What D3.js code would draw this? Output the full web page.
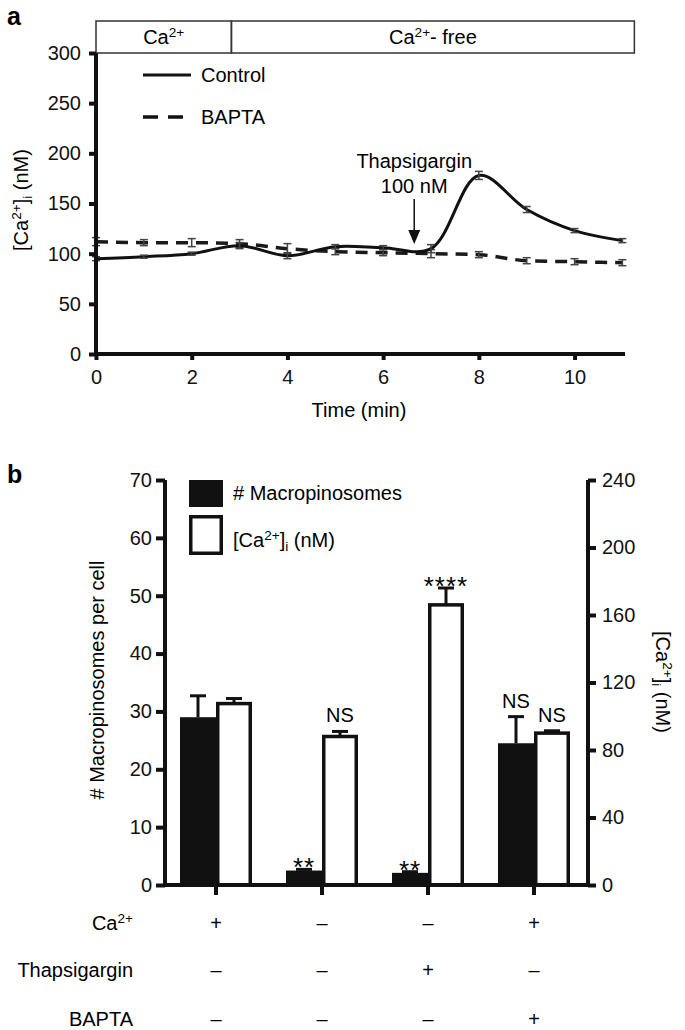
<!DOCTYPE html>
<html><head><meta charset="utf-8">
<script src="https://cdn.jsdelivr.net/npm/d3@7"></script>
<style>
body{margin:0;background:#fff;}
svg{display:block;font-family:"Liberation Sans",Arial,Helvetica,sans-serif;}
</style></head>
<body>
<svg id="chart" width="685" height="1030"></svg>
<script>
// ---------- Panel a data ----------
const times = [0,1,2,3,4,5,6,7,8,9,10,11];
const controlMean = [95,97,100,108,98,107,106,105,178,144,123,113];
const controlErr  = [2,1.5,1.5,3,3,2,2,4,4,3,2,2];
const baptaMean   = [112,111,111,110,105,102,101,100,99,93,92,91];
const baptaErr    = [4,3,4,4,5,3,3,4,3,3,3,3];
const yTicksA = [0,50,100,150,200,250,300];
const xTicksA = [0,2,4,6,8,10];
const phaseStart = [0,2.83];
const phaseEnd = [2.83,11.25];
const annotTime = 6.65;
const annotLines = ["Thapsigargin","100 nM"];

// ---------- Panel b data ----------
const groups = ["g1","g2","g3","g4"];
const macroMean = [29.0,2.5,2.1,24.5];
const macroErr  = [3.7,0.2,0.2,4.6];
const caMean = [107.5,88,166,90];
const caErr  = [3,3,10,1.4];
const macroSig = ["","**","**","NS"];
const caSig = ["","NS","****","NS"];
const leftTicks = [0,10,20,30,40,50,60,70];
const rightTicks = [0,40,80,120,160,200,240];
const rowSigns = [["+","–","–","+"],["–","–","+","–"],["–","–","–","+"]];

const svg = d3.select("#chart");
const FS = 20;

function rich(sel, parts, fs){
  let shift = 0;
  parts.forEach(p=>{
    const target = p.sup ? -0.36*fs : (p.sub ? 0.22*fs : 0);
    sel.append("tspan").attr("dy", target-shift)
      .style("font-size", (p.sup||p.sub) ? (0.68*fs)+"px" : fs+"px").text(p.t);
    shift = target;
  });
  return sel;
}
const caLabel = [{t:"[Ca"},{t:"2+",sup:true},{t:"]"},{t:"i",sub:true},{t:" (nM)"}];

// ================= Panel a =================
const xA = d3.scaleLinear().domain([0,11]).range([96,622.4]);
const yA = d3.scaleLinear().domain([0,300]).range([354,53]);
const gA = svg.append("g");

svg.append("text").attr("x",7).attr("y",25).style("font-size","25px").style("font-weight","bold").text("a");

// phase box
const phases = phaseStart.map((s,i)=>({s,e:phaseEnd[i],i}));
gA.selectAll("rect.phase").data(phases).join("rect").attr("class","phase")
  .attr("x",d=>xA(d.s)).attr("width",d=>xA(d.e)-xA(d.s))
  .attr("y",21).attr("height",32).attr("fill","none").attr("stroke","#333").attr("stroke-width",1.5);
rich(gA.append("text").attr("x",(xA(phaseStart[0])+xA(phaseEnd[0]))/2).attr("y",44).attr("text-anchor","middle"),
  [{t:"Ca"},{t:"2+",sup:true}],FS);
rich(gA.append("text").attr("x",(xA(phaseStart[1])+xA(phaseEnd[1]))/2).attr("y",44).attr("text-anchor","middle"),
  [{t:"Ca"},{t:"2+",sup:true},{t:"- free"}],FS);

// lines
const lineGen = d3.line().x((d,i)=>xA(times[i])).y(d=>yA(d)).curve(d3.curveCatmullRom.alpha(0.5));
const lineGenB = d3.line().x((d,i)=>xA(times[i])).y(d=>yA(d)).curve(d3.curveMonotoneX);

function errBars(mean, err, color){
  const g = gA.append("g").attr("stroke",color).attr("stroke-width",1.5).attr("fill","none");
  mean.forEach((m,i)=>{
    const x = xA(times[i]);
    g.append("line").attr("x1",x).attr("x2",x).attr("y1",yA(m-err[i])).attr("y2",yA(m+err[i]));
    g.append("line").attr("x1",x-4).attr("x2",x+4).attr("y1",yA(m-err[i])).attr("y2",yA(m-err[i]));
    g.append("line").attr("x1",x-4).attr("x2",x+4).attr("y1",yA(m+err[i])).attr("y2",yA(m+err[i]));
  });
}
gA.append("path").attr("d",lineGenB(baptaMean)).attr("fill","none").attr("stroke","#1a1a1a")
  .attr("stroke-width",3.5).attr("stroke-dasharray","12,8");
errBars(baptaMean,baptaErr,"#444");
gA.append("path").attr("d",lineGen(controlMean)).attr("fill","none").attr("stroke","#111").attr("stroke-width",3);
errBars(controlMean,controlErr,"#444");

// axes
const axYA = gA.append("g").attr("transform","translate(96,0)")
  .call(d3.axisLeft(yA).tickValues(yTicksA).tickSize(7).tickSizeOuter(0).tickPadding(8));
const axXA = gA.append("g").attr("transform","translate(0,354)")
  .call(d3.axisBottom(xA).tickValues(xTicksA).tickSize(6).tickSizeOuter(0).tickPadding(10));
[axYA,axXA].forEach(a=>{
  a.select(".domain").attr("stroke","#111").attr("stroke-width",4);
  a.selectAll(".tick line").attr("stroke","#111").attr("stroke-width",4);
  a.selectAll(".tick text").style("font-size",FS+"px").attr("fill","#111").style("font-family","Liberation Sans, Arial, sans-serif");
});
axXA.select(".domain").attr("d",`M96,0H625`);
axYA.select(".domain").attr("d",`M0,${yA(300)}V${yA(0)+2}`);

// axis titles
rich(gA.append("text").attr("transform","translate(28,200) rotate(-90)").attr("text-anchor","middle"),caLabel,FS);
gA.append("text").attr("x",359).attr("y",417).attr("text-anchor","middle").style("font-size",FS+"px").text("Time (min)");

// legend
gA.append("line").attr("x1",143).attr("x2",191).attr("y1",75).attr("y2",75).attr("stroke","#111").attr("stroke-width",3);
gA.append("text").attr("x",201).attr("y",82).style("font-size",FS+"px").text("Control");
gA.append("line").attr("x1",143).attr("x2",191).attr("y1",117).attr("y2",117).attr("stroke","#111").attr("stroke-width",3.5).attr("stroke-dasharray","15,10");
gA.append("text").attr("x",201).attr("y",124).style("font-size",FS+"px").text("BAPTA");

// annotation arrow
const ax = xA(annotTime);
gA.append("text").attr("x",ax).attr("y",168).attr("text-anchor","middle").style("font-size",FS+"px").text(annotLines[0]);
gA.append("text").attr("x",ax).attr("y",193).attr("text-anchor","middle").style("font-size",FS+"px").text(annotLines[1]);
gA.append("line").attr("x1",ax).attr("x2",ax).attr("y1",199).attr("y2",232).attr("stroke","#111").attr("stroke-width",1.5);
gA.append("path").attr("d",`M${ax-6},230L${ax+6},230L${ax},244Z`).attr("fill","#111");

// ================= Panel b =================
const xB = d3.scaleBand().domain(groups).range([163,587]);
const yL = d3.scaleLinear().domain([0,70]).range([885,480]);
const yR = d3.scaleLinear().domain([0,240]).range([885,480]);
const gB = svg.append("g");
const bw = 36;

svg.append("text").attr("x",7).attr("y",483).style("font-size","25px").style("font-weight","bold").text("b");

const cx = g => xB(g)+xB.bandwidth()/2;

// black bars
gB.selectAll("rect.macro").data(groups).join("rect").attr("class","macro")
  .attr("x",g=>cx(g)-bw).attr("width",bw)
  .attr("y",(g,i)=>yL(macroMean[i])).attr("height",(g,i)=>yL(0)-yL(macroMean[i])).attr("fill","#111");
// white bars
gB.selectAll("rect.ca").data(groups).join("rect").attr("class","ca")
  .attr("x",g=>cx(g)+1.75).attr("width",bw-3.5)
  .attr("y",(g,i)=>yR(caMean[i])).attr("height",(g,i)=>yR(0)-yR(caMean[i]))
  .attr("fill","#fff").attr("stroke","#111").attr("stroke-width",3.5);

// error bars
function barErr(xc, yTop, yErr){
  gB.append("line").attr("x1",xc).attr("x2",xc).attr("y1",yTop).attr("y2",yErr).attr("stroke","#111").attr("stroke-width",3);
  gB.append("line").attr("x1",xc-8).attr("x2",xc+8).attr("y1",yErr).attr("y2",yErr).attr("stroke","#111").attr("stroke-width",3);
}
groups.forEach((g,i)=>{
  const xm = cx(g)-bw/2, xc2 = cx(g)+bw/2;
  barErr(xm, yL(macroMean[i]), yL(macroMean[i]+macroErr[i]));
  barErr(xc2, yR(caMean[i]), yR(caMean[i]+caErr[i]));
  const sigs = [[macroSig[i], xm, yL(macroMean[i]+macroErr[i])],[caSig[i], xc2, yR(caMean[i]+caErr[i])]];
  sigs.forEach(([s,x,yt])=>{
    if(!s) return;
    const isStar = s.indexOf("*")>=0;
    gB.append("text").attr("x",x).attr("y", isStar ? yt+7 : yt-9).attr("text-anchor","middle")
      .style("font-size",(isStar?26:FS)+"px").style("letter-spacing", isStar ? "1px" : null).text(s);
  });
});

// axes
const axL = gB.append("g").attr("transform","translate(165,0)")
  .call(d3.axisLeft(yL).tickValues(leftTicks).tickSize(9).tickSizeOuter(0).tickPadding(4));
const axR = gB.append("g").attr("transform","translate(588,0)")
  .call(d3.axisRight(yR).tickValues(rightTicks).tickSize(8).tickSizeOuter(0).tickPadding(6));
const axXB = gB.append("g").attr("transform","translate(0,885)")
  .call(d3.axisBottom(xB).tickSize(10).tickSizeOuter(0).tickFormat(""));
[axL,axR,axXB].forEach(a=>{
  a.select(".domain").attr("stroke","#111").attr("stroke-width",4);
  a.selectAll(".tick line").attr("stroke","#111").attr("stroke-width",4);
  a.selectAll(".tick text").style("font-size",FS+"px").attr("fill","#111").style("font-family","Liberation Sans, Arial, sans-serif");
});
axXB.select(".domain").attr("d","M165,0H588");
axL.select(".domain").attr("d",`M0,${yL(70)}V${yL(0)+2}`);
axR.select(".domain").attr("d",`M0,${yR(240)}V${yR(0)+2}`);

// titles
gB.append("text").attr("transform","translate(104,680) rotate(-90)").attr("text-anchor","middle")
  .style("font-size",FS+"px").text("# Macropinosomes per cell");
rich(gB.append("text").attr("transform","translate(656,682) rotate(90)").attr("text-anchor","middle"),caLabel,FS);

// legend
gB.append("rect").attr("x",189).attr("y",480).attr("width",34).attr("height",27).attr("fill","#111");
gB.append("rect").attr("x",190.75).attr("y",516.75).attr("width",30.5).attr("height",36.5).attr("fill","#fff").attr("stroke","#111").attr("stroke-width",3.5);
gB.append("text").attr("x",233).attr("y",500).style("font-size",FS+"px").text("# Macropinosomes");
rich(gB.append("text").attr("x",233).attr("y",547),caLabel,FS);

// condition table
const rowY = [930,977,1026];
const rowLab = [
  [{t:"Ca"},{t:"2+",sup:true}],
  [{t:"Thapsigargin"}],
  [{t:"BAPTA"}]
];
rowLab.forEach((parts,r)=>{
  rich(gB.append("text").attr("x",133).attr("y",rowY[r]).attr("text-anchor","end"),parts,FS);
  groups.forEach((g,i)=>{
    gB.append("text").attr("x",cx(g)).attr("y",rowY[r]).attr("text-anchor","middle")
      .style("font-size",FS+"px").text(rowSigns[r][i]);
  });
});
</script>
</body></html>
